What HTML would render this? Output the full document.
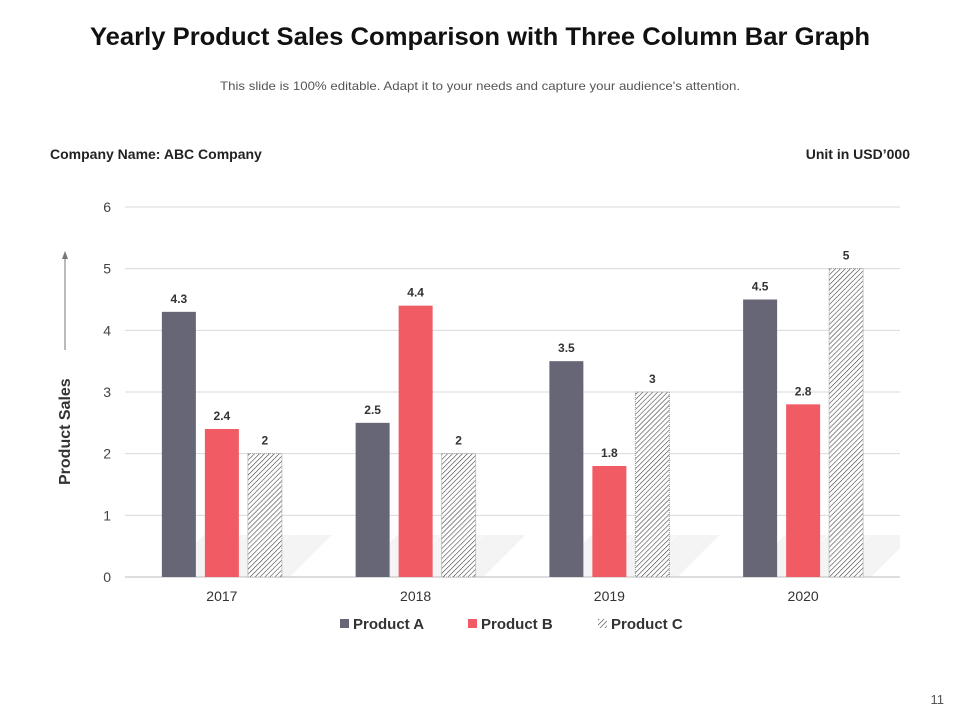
<!DOCTYPE html>
<html><head><meta charset="utf-8"><style>
html,body{margin:0;padding:0;background:#fff;}
svg{display:block;font-family:"Liberation Sans",sans-serif;}
</style></head><body>
<svg id="chart" width="960" height="720" viewBox="0 0 960 720">
<defs>
<pattern id="hatch" width="3.5" height="3.5" patternUnits="userSpaceOnUse" patternTransform="rotate(45)">
<rect width="3.5" height="3.5" fill="#fff"/><line x1="0" y1="0" x2="0" y2="3.5" stroke="#444" stroke-width="1.2"/>
</pattern>
<clipPath id="plotclip"><rect x="125" y="207" width="775" height="370"/></clipPath>
</defs>
<text x="480" y="45" text-anchor="middle" font-size="25" font-weight="bold" fill="#111" textLength="780" lengthAdjust="spacingAndGlyphs">Yearly Product Sales Comparison with Three Column Bar Graph</text>
<text x="480" y="90" text-anchor="middle" font-size="12" fill="#555" textLength="520" lengthAdjust="spacingAndGlyphs">This slide is 100% editable. Adapt it to your needs and capture your audience's attention.</text>
<text x="50" y="159" font-size="14" font-weight="bold" fill="#222">Company Name: ABC Company</text>
<text x="910" y="159" text-anchor="end" font-size="14" font-weight="bold" fill="#222">Unit in USD’000</text>
<g id="shadows" clip-path="url(#plotclip)"></g>
<g id="grid"></g>
<g id="bars"></g>
<g id="labels"></g>
<g>
<line x1="65" y1="350" x2="65" y2="256" stroke="#777" stroke-width="1"/>
<polygon points="65,251 62,259 68,259" fill="#777"/>
<text transform="translate(70,485) rotate(-90)" font-size="16" font-weight="bold" fill="#333">Product Sales</text>
</g>
<g id="legend"></g>
<text x="944" y="704" text-anchor="end" font-size="13" fill="#555">11</text>
</svg>
<script>
const categories=["2017","2018","2019","2020"];
const seriesNames=["Product A","Product B","Product C"];
const productA=[4.3,2.5,3.5,4.5];
const productB=[2.4,4.4,1.8,2.8];
const productC=[2,2,3,5];
const yTicks=[0,1,2,3,4,5,6];

const NS="http://www.w3.org/2000/svg";
const X0=125,X1=900,Y0=577,Y1=207,YMAX=6;
const colors=["#676677","#f15c64","url(#hatch)"];
function y(v){return Y0-(v/YMAX)*(Y0-Y1);}
const bandW=(X1-X0)/categories.length;
function bandCenter(i){return X0+bandW*(i+0.5);}
const BW=34,GAP=9;
function mk(tag,attrs,parent){const e=document.createElementNS(NS,tag);for(const k in attrs)e.setAttribute(k,attrs[k]);parent.appendChild(e);return e;}
const grid=document.getElementById('grid');
yTicks.forEach(t=>{
  const l=mk('line',{x1:X0,x2:X1,y1:y(t),y2:y(t),stroke:t===0?'#bbb':'#d9d9d9','stroke-width':1},grid);
  
  
  const tx=mk('text',{x:X0-14,y:y(t)+5,'text-anchor':'end','font-size':14,fill:'#444'},grid);
  tx.textContent=t;
  
  
});
const series=[productA,productB,productC];
const bars=document.getElementById('bars'),labels=document.getElementById('labels'),shadows=document.getElementById('shadows');
categories.forEach((c,i)=>{
  const cx=bandCenter(i);
  const tx=mk('text',{x:cx,y:Y0+24,'text-anchor':'middle','font-size':14,fill:'#333'},labels);
  tx.textContent=c;
  
  
  series.forEach((s,j)=>{
    const x=cx+(j-1)*(BW+GAP)-BW/2;
    const v=s[i];
    const sh=mk('polygon',{points:`${x},${Y0} ${x+BW+8},${Y0} ${x+BW+50},${Y0-42} ${x+42},${Y0-42}`,fill:'#f4f4f4'},shadows);
    
    
    const r=mk('rect',{x:x,y:y(v),width:BW,height:Y0-y(v),fill:colors[j]},bars);
    if(j===2){r.setAttribute('stroke','#999');r.setAttribute('stroke-dasharray','1,1');r.setAttribute('stroke-width','1');}
    
    
    const lt=mk('text',{x:x+BW/2,y:y(v)-9,'text-anchor':'middle','font-size':12,'font-weight':'bold',fill:'#333'},labels);
    lt.textContent=v;
    
    
  });
});
const legend=document.getElementById('legend');
const lx=[340,468,598];
seriesNames.forEach((n,j)=>{
  const g=mk('g',{},legend);
  
  
  mk('rect',{x:lx[j],y:619,width:9,height:9,fill:colors[j]},g);
  const t=mk('text',{x:lx[j]+13,y:629,'font-size':15,'font-weight':'bold',fill:'#333'},g);
  t.textContent=n;
});
</script>
</body></html>
